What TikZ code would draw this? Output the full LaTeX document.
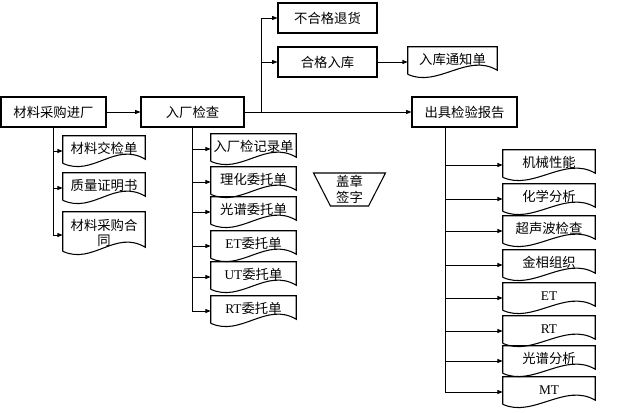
\documentclass[tikz,border=0pt]{standalone}
\usepackage{fontspec}
\setmainfont{Noto Sans CJK SC}
\newfontfamily\latinrm{Liberation Serif}
\usetikzlibrary{arrows.meta,shapes.geometric}
\tikzset{
  box/.style={draw, line width=0.8pt, minimum height=22.5pt, inner sep=1pt},
  doc/.style={minimum width=#1, minimum height=22.5pt, inner sep=1pt, align=center, text height=7.5pt, text depth=3.5pt,
    append after command={\pgfextra{\let\dn\tikzlastnode
      \draw[line width=0.8pt] ([yshift=2.25pt]\dn.south west) -- (\dn.north west) -- (\dn.north east)
        -- ([yshift=5.25pt]\dn.south east) .. controls +(-30,-18) and +(30,14) .. ([yshift=2.25pt]\dn.south west);}}},
  arr/.style={-{Triangle[length=4pt,width=3pt]}, line width=0.7pt}
}
\begin{document}
\begin{tikzpicture}[x=0.75pt,y=-0.75pt,font=\fontsize{10}{11.5}\selectfont]
\useasboundingbox (0,0) rectangle (624,413);
\node[box, minimum width=78.75pt] (buy) at (53.5,112){材料采购进厂};
\node[box, minimum width=77.25pt] (check) at (192.5,112){入厂检查};
\node[box, minimum width=74.25pt] (reject) at (327.5,18){不合格退货};
\node[box, minimum width=74.25pt] (pass) at (327.5,62){合格入库};
\node[doc=66.75pt] (notice) at (452.5,62){入库通知单};
\node[box, minimum width=78.75pt] (report) at (464.5,112){出具检验报告};
\coordinate (j) at (261,112);
\coordinate (rs) at ([xshift=-14.6pt]report.south);
\draw[arr](buy.east) -- (check.west);
\draw[arr](check.east) -- (report.west);
\draw[arr](j) |- (reject.west);
\draw[arr](j) |- (pass.west);
\draw[arr](pass.east) -- (notice.west);
\node[doc=61.5pt] (l1) at (104,151){材料交检单};
\node[doc=61.5pt] (l2) at (104,188){质量证明书};
\node[doc=61.5pt, minimum height=31.5pt, text height=, text depth=] (l3) at (104,233){材料采购合\\同};
\draw[arr](buy.south) |- (l1.west);
\draw[arr](buy.south) |- (l2.west);
\draw[arr](buy.south) |- ([yshift=-1.5pt]l3.west);
\node[doc=63.75pt] (m1) at (253.5,149){入厂检记录单};
\node[doc=63.75pt] (m2) at (253.5,182){理化委托单};
\node[doc=63.75pt] (m3) at (253.5,212){光谱委托单};
\node[doc=63.75pt] (m4) at (253.5,246){{\latinrm ET}委托单};
\node[doc=63.75pt] (m5) at (253.5,277){{\latinrm UT}委托单};
\node[doc=63.75pt] (m6) at (253.5,311){{\latinrm RT}委托单};
\draw[arr](check.south) |- (m1.west);
\draw[arr](check.south) |- (m2.west);
\draw[arr](check.south) |- (m3.west);
\draw[arr](check.south) |- (m4.west);
\draw[arr](check.south) |- (m5.west);
\draw[arr](check.south) |- (m6.west);
\node[draw, line width=0.8pt, trapezium, trapezium stretches=true, trapezium left angle=67, trapezium right angle=67,
  shape border rotate=180, minimum width=54pt, minimum height=24.75pt, inner sep=0pt, align=center] (stamp) at (349.5,189.5){盖章\\签字};
\node[doc=69pt] (r1) at (549,165){机械性能};
\node[doc=69pt] (r2) at (549,199){化学分析};
\node[doc=69pt] (r3) at (549,231){超声波检查};
\node[doc=69pt] (r4) at (549,265){金相组织};
\node[doc=69pt] (r5) at (549,298){\latinrm ET};
\node[doc=69pt] (r6) at (549,331){\latinrm RT};
\node[doc=69pt] (r7) at (549,361){光谱分析};
\node[doc=69pt] (r8) at (549,392){\latinrm MT};
\draw[arr](rs) |- (r1.west);
\draw[arr](rs) |- (r2.west);
\draw[arr](rs) |- (r3.west);
\draw[arr](rs) |- (r4.west);
\draw[arr](rs) |- (r5.west);
\draw[arr](rs) |- (r6.west);
\draw[arr](rs) |- (r7.west);
\draw[arr](rs) |- (r8.west);
\end{tikzpicture}
\end{document}
